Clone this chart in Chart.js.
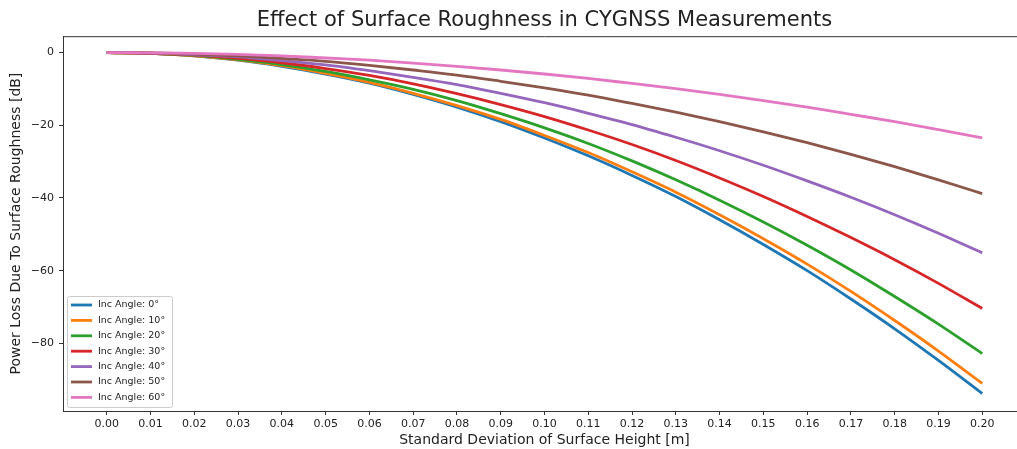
<!DOCTYPE html>
<html>
<head>
<meta charset="utf-8">
<script src="https://cdn.jsdelivr.net/npm/chart.js@4.4.1/dist/chart.umd.min.js"></script>
<style>
html, body { margin: 0; padding: 0; background: #fff; overflow: hidden; width: 1017px; height: 449px; }
#clip { width: 1017px; height: 449px; overflow: hidden; position: relative; }
canvas { display: block; position: absolute; left: 0; top: 0; }
</style>
</head>
<body>
<div id="clip"><canvas id="lossChart" width="1026" height="449"></canvas></div>
<script>
// surface height std dev [m]
const sigma = [0.00, 0.01, 0.02, 0.03, 0.04, 0.05, 0.06, 0.07, 0.08, 0.09, 0.10,
               0.11, 0.12, 0.13, 0.14, 0.15, 0.16, 0.17, 0.18, 0.19, 0.20];

const angleLabels = ['Inc Angle: 0°', 'Inc Angle: 10°', 'Inc Angle: 20°', 'Inc Angle: 30°',
                     'Inc Angle: 40°', 'Inc Angle: 50°', 'Inc Angle: 60°'];

// power loss [dB]
const loss0  = [0, -0.2, -0.9, -2.1, -3.8, -5.9, -8.4, -11.5, -15.0, -19.0, -23.5, -28.4, -33.8, -39.6, -46.0, -52.8, -60.0, -67.8, -76.0, -84.7, -93.8];
const loss10 = [0, -0.2, -0.9, -2.0, -3.6, -5.7, -8.2, -11.2, -14.6, -18.4, -22.8, -27.5, -32.8, -38.4, -44.6, -51.2, -58.2, -65.7, -73.7, -82.1, -91.0];
const loss20 = [0, -0.2, -0.8, -1.9, -3.3, -5.2, -7.5, -10.1, -13.2, -16.8, -20.7, -25.0, -29.8, -35.0, -40.6, -46.6, -53.0, -59.8, -67.1, -74.7, -82.8];
const loss30 = [0, -0.2, -0.7, -1.6, -2.8, -4.4, -6.3, -8.6, -11.3, -14.3, -17.6, -21.3, -25.3, -29.7, -34.5, -39.6, -45.1, -50.9, -57.0, -63.5, -70.4];
const loss40 = [0, -0.1, -0.6, -1.2, -2.2, -3.4, -5.0, -6.8, -8.8, -11.2, -13.8, -16.7, -19.8, -23.3, -27.0, -31.0, -35.3, -39.8, -44.6, -49.7, -55.1];
const loss50 = [0, -0.1, -0.4, -0.9, -1.6, -2.4, -3.5, -4.8, -6.2, -7.9, -9.7, -11.7, -14.0, -16.4, -19.0, -21.8, -24.8, -28.0, -31.4, -35.0, -38.8];
const loss60 = [0, -0.1, -0.2, -0.5, -0.9, -1.5, -2.1, -2.9, -3.8, -4.8, -5.9, -7.1, -8.5, -9.9, -11.5, -13.2, -15.0, -17.0, -19.0, -21.2, -23.5];

const xTicks = [0.00, 0.01, 0.02, 0.03, 0.04, 0.05, 0.06, 0.07, 0.08, 0.09, 0.10,
                0.11, 0.12, 0.13, 0.14, 0.15, 0.16, 0.17, 0.18, 0.19, 0.20];
const yTicks = [-80, -60, -40, -20, 0];

const colors = ['#1f77b4', '#ff7f0e', '#2ca02c', '#d62728', '#9467bd', '#8c564b', '#e377c2'];
const allLoss = [loss0, loss10, loss20, loss30, loss40, loss50, loss60];

const FONT = 'DejaVu Sans';
const TEXT = '#222';

const datasets = allLoss.map((vals, i) => ({
    label: angleLabels[i],
    data: vals.map((v, j) => ({ x: sigma[j], y: v })),
    borderColor: colors[i],
    backgroundColor: colors[i],
    borderWidth: 2.8,
    pointRadius: 0,
    cubicInterpolationMode: 'monotone',
    order: allLoss.length - i
}));

// top spine (right spine falls outside the picture) + legend in lower left
const framePlugin = {
    id: 'frame',
    afterDraw(chart) {
        const { ctx, chartArea: a } = chart;
        ctx.save();
        ctx.strokeStyle = '#333';
        ctx.lineWidth = 1;
        ctx.beginPath();
        ctx.moveTo(a.left, a.top + 0.5);
        ctx.lineTo(a.right, a.top + 0.5);
        ctx.stroke();

        const bx = a.left + 4, bw = 105, bh = 111;
        const by = a.bottom - 4 - bh;
        ctx.fillStyle = 'rgba(255,255,255,0.85)';
        ctx.strokeStyle = '#ccc';
        ctx.beginPath();
        ctx.roundRect(bx + 0.5, by + 0.5, bw, bh, 2);
        ctx.fill();
        ctx.stroke();

        ctx.font = '9.5px ' + FONT;
        ctx.textBaseline = 'middle';
        ctx.textAlign = 'left';
        angleLabels.forEach((lab, i) => {
            const y = by + 9 + i * 15.4;
            ctx.strokeStyle = colors[i];
            ctx.lineWidth = 2.8;
            ctx.beginPath();
            ctx.moveTo(bx + 4, y);
            ctx.lineTo(bx + 25, y);
            ctx.stroke();
            ctx.fillStyle = TEXT;
            ctx.fillText(lab, bx + 31, y);
        });
        ctx.restore();
    }
};

new Chart(document.getElementById('lossChart'), {
    type: 'line',
    data: { datasets: datasets },
    options: {
        responsive: false,
        animation: false,
        layout: { padding: { left: 0, right: 0, top: 0, bottom: 0 } },
        plugins: {
            legend: { display: false },
            tooltip: { enabled: false },
            title: {
                display: true,
                text: 'Effect of Surface Roughness in CYGNSS Measurements',
                fullSize: false,
                color: TEXT,
                font: { family: FONT, size: 21, weight: 'normal' },
                lineHeight: 1.2,
                padding: { top: 8, bottom: 3 }
            }
        },
        scales: {
            x: {
                type: 'linear',
                min: -0.01,
                max: 0.21,
                afterBuildTicks: scale => { scale.ticks = xTicks.map(v => ({ value: v })); },
                afterFit: scale => { scale.height = 38; },
                ticks: {
                    color: TEXT,
                    font: { family: FONT, size: 11 },
                    padding: 3,
                    maxRotation: 0,
                    autoSkip: false,
                    callback: v => v.toFixed(2)
                },
                grid: { drawOnChartArea: false, tickLength: 4, tickColor: '#333' },
                border: { color: '#333' },
                title: {
                    display: true,
                    text: 'Standard Deviation of Surface Height [m]',
                    color: TEXT,
                    font: { family: FONT, size: 14 },
                    padding: { top: 0, bottom: 0 }
                }
            },
            y: {
                min: -98.6,
                max: 4.5,
                afterBuildTicks: scale => { scale.ticks = yTicks.map(v => ({ value: v })); },
                afterFit: scale => { scale.width = 63; },
                ticks: {
                    color: TEXT,
                    font: { family: FONT, size: 11 },
                    padding: 5,
                    callback: v => (v < 0 ? '\u2212' + Math.abs(v) : '' + v)
                },
                grid: { drawOnChartArea: false, tickLength: 4, tickColor: '#333' },
                border: { color: '#333' },
                title: {
                    display: true,
                    text: 'Power Loss Due To Surface Roughness [dB]',
                    color: TEXT,
                    font: { family: FONT, size: 14 },
                    padding: { top: 8, bottom: 0 }
                }
            }
        }
    },
    plugins: [framePlugin]
});
</script>
</body>
</html>
